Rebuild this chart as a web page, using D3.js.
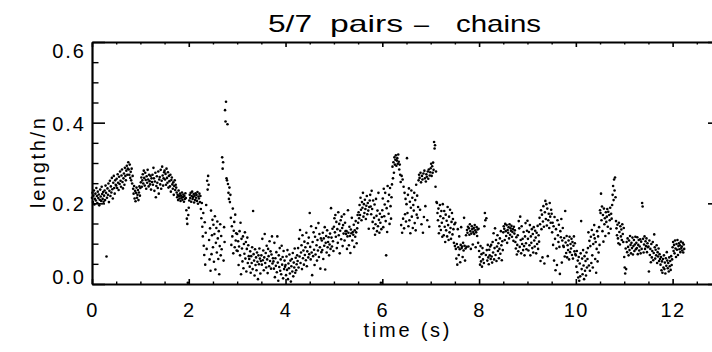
<!DOCTYPE html>
<html>
<head>
<meta charset="utf-8">
<script src="https://cdn.jsdelivr.net/npm/d3@7"></script>
<style>
  html, body { margin: 0; padding: 0; background: #fff; }
  svg { display: block; }
  text { font-family: "Liberation Sans", Arial, sans-serif; fill: #000; }
</style>
</head>
<body>
<svg id="chart" width="712" height="352"></svg>
<script>
// Chain length per particle, sampled at a fixed rate (one row = 0.25 s)
const sampleRate = 100; // samples per second
const lengthN = [
  .214,.226,.203,.219,.232,.197,.211,.224,.207,.238,.218,.201,.229,.213,.222,.195,.209,.234,.217,.206,.241,.223,.211,.228,.204,
  .219,.232,.208,.244,.226,.068,.214,.237,.221,.249,.203,.231,.256,.218,.242,.227,.263,.235,.212,.251,.268,.238,.224,.257,.246,
  .244,.261,.238,.272,.251,.233,.266,.248,.279,.256,.241,.269,.284,.253,.237,.262,.274,.246,.288,.268,.257,.281,.293,.271,.286,
  .302,.284,.271,.296,.263,.278,.257,.286,.249,.268,.236,.224,.243,.212,.231,.205,.226,.239,.214,.221,.233,.208,.227,.242,.219,
  .238,.252,.264,.241,.257,.272,.249,.281,.263,.244,.276,.258,.236,.267,.251,.283,.259,.242,.271,.255,.247,.268,.234,.262,.253,
  .271,.246,.288,.262,.231,.254,.276,.215,.243,.267,.251,.238,.279,.224,.259,.265,.247,.283,.236,.256,.291,.269,.244,.262,.277,
  .281,.259,.273,.246,.286,.263,.251,.277,.239,.268,.255,.242,.271,.229,.258,.264,.247,.236,.252,.221,.243,.257,.233,.246,.239,
  .227,.215,.221,.208,.232,.218,.212,.224,.206,.219,.214,.227,.209,.216,.222,.204,.218,.211,.225,.213,.183,.162,.149,.003,.171,
  .189,.207,.221,.213,.226,.204,.218,.229,.211,.216,.223,.202,.219,.208,.225,.214,.221,.206,.228,.199,.217,.212,.224,.203,.218,
  .186,.163,.201,.142,.118,.176,.095,.072,.153,.048,.127,.196,.087,.256,.234,.268,.246,.109,.061,.138,.033,.182,.074,.121,.159,
  .091,.147,.055,.124,.168,.036,.102,.139,.078,.155,.113,.062,.131,.024,.094,.148,.071,.119,.086,.314,.286,.302,.058,.141,.104,
  .431,.403,.452,.262,.257,.396,.248,.226,.211,.239,.203,.221,.164,.097,.143,.118,.187,.076,.132,.154,.091,.172,.108,.126,.083,
  .124,.082,.106,.047,.093,.131,.071,.152,.024,.112,.088,.056,.118,.039,.099,.075,.128,.063,.104,.031,.087,.115,.052,.096,.069,
  .062,.043,.081,.028,.069,.052,.091,.037,.181,.074,.058,.021,.086,.047,.066,.034,.078,.055,.012,.071,.049,.088,.063,.026,.057,
  .071,.048,.112,.059,.083,.034,.066,.124,.052,.077,.041,.095,.061,.027,.087,.069,.044,.106,.057,.081,.038,.073,.118,.051,.064,
  .056,.038,.102,.017,.064,.045,.079,.029,.118,.053,.008,.071,.042,.089,.033,.061,.024,.095,.048,.067,.014,.082,.037,.058,.043,
  .047,.022,.068,.035,.084,.012,.051,.039,.073,.026,.058,.006,.044,.062,.031,.077,.019,.053,.041,.088,.028,.065,.034,.049,.071,
  .057,.089,.041,.112,.068,.134,.052,.078,.096,.037,.121,.064,.083,.048,.105,.072,.091,.059,.127,.044,.081,.101,.066,.115,.074,
  .176,.092,.061,.143,.078,.022,.104,.069,.128,.085,.047,.117,.073,.139,.096,.058,.109,.083,.151,.067,.124,.091,.038,.113,.079,
  .108,.084,.127,.062,.113,.095,.141,.036,.102,.119,.078,.133,.091,.104,.116,.071,.098,.125,.087,.188,.115,.093,.137,.106,.082,
  .142,.163,.128,.171,.117,.154,.089,.136,.102,.178,.121,.149,.076,.132,.158,.111,.167,.139,.094,.146,.125,.173,.108,.152,.131,
  .124,.131,.087,.118,.183,.127,.096,.142,.119,.077,.135,.126,.164,.108,.129,.122,.147,.092,.133,.117,.156,.128,.101,.138,.171,
  .152,.178,.163,.196,.171,.214,.184,.158,.203,.189,.226,.167,.198,.176,.209,.186,.161,.194,.218,.173,.201,.182,.137,.191,.207,
  .221,.192,.173,.231,.186,.154,.207,.138,.164,.197,.122,.148,.211,.169,.131,.182,.143,.226,.159,.127,.174,.152,.003,.136,.166,
  .183,.212,.141,.236,.168,.197,.226,.156,.071,.188,.129,.243,.205,.174,.221,.149,.238,.193,.162,.215,.247,.291,.262,.302,.276,
  .314,.296,.308,.319,.293,.306,.312,.298,.321,.303,.284,.296,.271,.253,.146,.268,.127,.259,.162,.241,.138,.226,.173,.211,.155,
  .198,.312,.176,.221,.143,.237,.158,.204,.126,.189,.232,.167,.214,.139,.196,.182,.226,.151,.208,.133,.246,.172,.219,.164,.191,
  .257,.271,.263,.184,.276,.252,.148,.268,.259,.127,.274,.166,.281,.262,.193,.254,.272,.266,.158,.279,.261,.284,.142,.269,.277,
  .287,.298,.268,.292,.276,.301,.283,.352,.336,.344,.241,.279,.203,.201,.176,.158,.187,.126,.143,.196,.168,.134,.181,.152,.117,
  .198,.163,.121,.181,.142,.104,.172,.133,.157,.118,.191,.146,.109,.167,.128,.184,.139,.112,.154,.176,.123,.161,.136,.102,.148,
  .094,.152,.087,.063,.099,.048,.136,.091,.072,.118,.086,.054,.097,.141,.089,.093,.067,.102,.083,.164,.095,.058,.088,.121,.092,
  .134,.127,.142,.093,.138,.122,.148,.131,.087,.125,.143,.136,.098,.129,.139,.124,.146,.133,.091,.128,.141,.119,.135,.102,.137,
  .082,.067,.048,.094,.056,.074,.043,.089,.061,.077,.052,.143,.176,.158,.072,.163,.084,.058,.097,.066,.049,.085,.071,.093,.062,
  .097,.068,.053,.104,.078,.126,.061,.089,.138,.072,.109,.057,.093,.121,.082,.101,.064,.087,.113,.075,.131,.096,.059,.106,.084,
  .128,.143,.137,.109,.149,.131,.119,.146,.102,.134,.127,.141,.113,.148,.122,.138,.132,.144,.117,.129,.136,.107,.142,.125,.133,
  .104,.088,.116,.073,.097,.121,.081,.156,.138,.092,.167,.109,.076,.143,.099,.112,.084,.129,.094,.071,.118,.151,.101,.086,.132,
  .157,.112,.083,.129,.096,.146,.071,.118,.102,.136,.089,.124,.078,.141,.108,.093,.132,.115,.076,.127,.099,.144,.087,.121,.105,
  .164,.148,.057,.183,.136,.172,.066,.155,.193,.142,.051,.178,.206,.161,.198,.145,.187,.069,.158,.174,.139,.201,.167,.152,.184,
  .174,.128,.152,.097,.143,.058,.166,.112,.034,.136,.088,.047,.158,.121,.104,.147,.092,.025,.131,.116,.161,.053,.108,.139,.095,
  .092,.114,.068,.181,.103,.077,.119,.066,.096,.084,.108,.061,.117,.079,.099,.088,.112,.072,.104,.063,.095,.118,.081,.101,.074,
  .071,.043,.082,.029,.058,.016,.067,.008,.051,.019,.076,.156,.037,.063,.024,.084,.046,.012,.069,.033,.057,.021,.078,.041,.062,
  .089,.128,.046,.107,.033,.094,.117,.052,.134,.071,.041,.099,.122,.146,.113,.062,.104,.028,.087,.131,.056,.118,.078,.141,.097,
  .183,.176,.224,.158,.192,.131,.171,.105,.187,.148,.163,.119,.178,.154,.167,.186,.142,.179,.126,.171,.158,.189,.137,.174,.162,
  .196,.221,.243,.208,.259,.232,.264,.215,.156,.138,.121,.147,.113,.101,.152,.129,.098,.143,.118,.135,.109,.148,.124,.104,.139,
  .067,.041,.026,.088,.037,.104,.079,.113,.092,.071,.108,.084,.119,.097,.076,.102,.089,.115,.073,.094,.109,.082,.098,.117,.086,
  .102,.089,.116,.074,.097,.109,.083,.093,.111,.076,.105,.087,.201,.192,.112,.078,.098,.118,.087,.106,.094,.113,.079,.101,.091,
  .093,.031,.108,.072,.087,.054,.099,.066,.082,.104,.059,.077,.123,.091,.063,.085,.071,.096,.052,.079,.068,.088,.057,.074,.062,
  .048,.067,.034,.056,.028,.062,.041,.071,.037,.053,.026,.064,.045,.079,.058,.039,.052,.031,.066,.044,.057,.035,.069,.047,.061,
  .091,.104,.082,.097,.076,.108,.088,.067,.099,.085,.109,.072,.094,.101,.086,.096,.079,.105,.089,.093,.083,.102,.078,.098,.087
];

const xTicks = [0, 2, 4, 6, 8, 10, 12];
const xMinorTicks = [0.5,1,1.5,2.5,3,3.5,4.5,5,5.5,6.5,7,7.5,8.5,9,9.5,10.5,11,11.5,12.5];
const yTicks = [0.0, 0.2, 0.4, 0.6];
const yMinorTicks = [0.05,0.1,0.15,0.25,0.3,0.35,0.45,0.5,0.55];
const xDomain = [0, 13];
const yDomain = [0, 0.6];

const titleWords = ["5/7", "pairs", "\u2013", "chains"];
const xTitle = "time (s)";
const yTitle = "length/n";

const svg = d3.select("#chart");
const frame = { left: 92, top: 42, right: 721, bottom: 284 };

const x = d3.scaleLinear().domain(xDomain).range([frame.left, frame.right]);
const y = d3.scaleLinear().domain(yDomain).range([frame.bottom, frame.top]);

const points = lengthN.map((v, i) => ({ t: i / sampleRate, v }));

// data points
svg.append("g")
  .selectAll("circle")
  .data(points)
  .join("circle")
  .attr("cx", d => x(d.t))
  .attr("cy", d => y(d.v))
  .attr("r", 1.3)
  .attr("fill", "#000");

const labelFont = "Liberation Sans, Arial, sans-serif";

function styleAxis(g) {
  g.select(".domain").attr("stroke", "#000").attr("stroke-width", 2.2);
  g.selectAll(".tick line").attr("stroke", "#000").attr("stroke-width", 1.6);
}
function minor(g) {
  g.select(".domain").remove();
  g.selectAll("line").attr("stroke", "#000").attr("stroke-width", 1.4);
}

// bottom axis with labels, ticks pointing into the frame
const gx = svg.append("g").attr("transform", `translate(0,${frame.bottom})`)
  .call(d3.axisBottom(x).tickValues(xTicks).tickSize(-5).tickSizeOuter(0).tickPadding(19)
        .tickFormat(d3.format("d")));
styleAxis(gx);
gx.selectAll("text").attr("font-size", 20).attr("font-family", labelFont).attr("letter-spacing", 1.5);
svg.append("g").attr("transform", `translate(0,${frame.bottom})`)
  .call(d3.axisBottom(x).tickValues(xMinorTicks).tickSize(-2.5).tickFormat("")).call(minor);

// top axis
const gt = svg.append("g").attr("transform", `translate(0,${frame.top})`)
  .call(d3.axisTop(x).tickValues(xTicks).tickSize(-5).tickSizeOuter(0).tickFormat(""));
styleAxis(gt);
svg.append("g").attr("transform", `translate(0,${frame.top})`)
  .call(d3.axisTop(x).tickValues(xMinorTicks).tickSize(-2.5).tickFormat("")).call(minor);

// left axis with labels
const gy = svg.append("g").attr("transform", `translate(${frame.left},0)`)
  .call(d3.axisLeft(y).tickValues(yTicks).tickSize(-13).tickSizeOuter(0).tickPadding(6)
        .tickFormat(d3.format(".1f")));
styleAxis(gy);
gy.selectAll("text").attr("font-size", 20).attr("font-family", labelFont).attr("letter-spacing", 2)
  .attr("dy", d => d === yDomain[0] ? "-0.05em" : d === yDomain[1] ? "0.75em" : "0.38em");
svg.append("g").attr("transform", `translate(${frame.left},0)`)
  .call(d3.axisLeft(y).tickValues(yMinorTicks).tickSize(-6.5).tickFormat("")).call(minor);

// right axis
const gr = svg.append("g").attr("transform", `translate(${frame.right},0)`)
  .call(d3.axisRight(y).tickValues(yTicks).tickSize(-13).tickSizeOuter(0).tickFormat(""));
styleAxis(gr);
svg.append("g").attr("transform", `translate(${frame.right},0)`)
  .call(d3.axisRight(y).tickValues(yMinorTicks).tickSize(-6.5).tickFormat("")).call(minor);

// title, each word placed on its own span
const titleX = [268, 330, 414, 456];
const titleW = [44, 73, 15, 85];
const title = svg.append("text").attr("y", 32).attr("font-size", 24);
titleWords.forEach((w, i) => {
  if (i > 0) title.append("tspan").text(" ");
  title.append("tspan")
    .attr("x", titleX[i])
    .attr("textLength", titleW[i]).attr("lengthAdjust", "spacingAndGlyphs")
    .text(w);
});

svg.append("text")
  .attr("x", (frame.left + frame.right) / 2).attr("y", 337)
  .attr("text-anchor", "middle")
  .attr("font-size", 20)
  .attr("textLength", 86).attr("lengthAdjust", "spacing")
  .text(xTitle);

svg.append("text")
  .attr("transform", `translate(45,${(frame.top + frame.bottom) / 2}) rotate(-90)`)
  .attr("text-anchor", "middle")
  .attr("font-size", 20)
  .attr("textLength", 90).attr("lengthAdjust", "spacing")
  .text(yTitle);
</script>
</body>
</html>
